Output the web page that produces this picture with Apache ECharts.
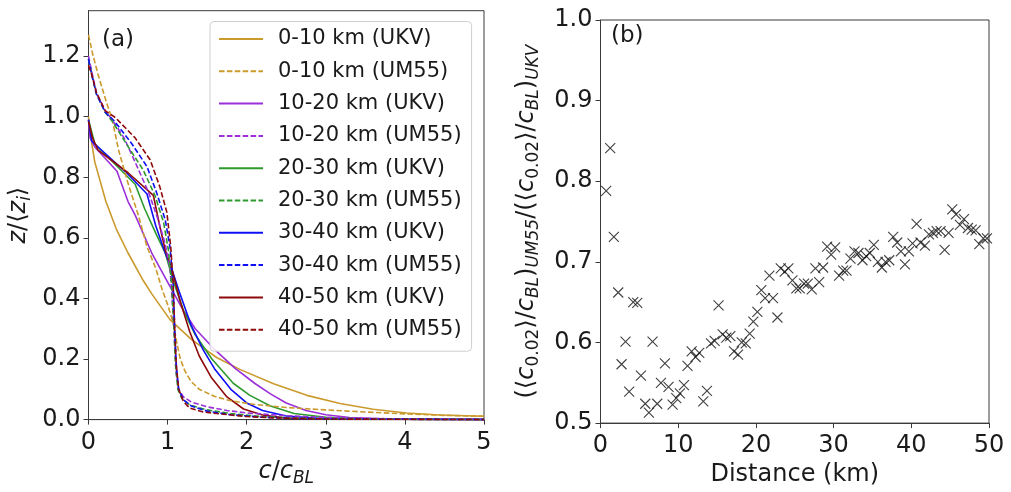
<!DOCTYPE html>
<html>
<head>
<meta charset="utf-8">
<script src="https://cdn.jsdelivr.net/npm/echarts@6/dist/echarts.min.js"></script>
<style>
  html, body { margin: 0; padding: 0; background: #ffffff; }
  #chart { width: 1011px; height: 492px; }
</style>
</head>
<body>
<div id="chart"></div>
<script>
// ---- Panel (a): normalised concentration profiles, [c/cBL, z/<zi>] ----
const ukv_0_10 = [[0,1.0],[0.03,0.93],[0.08,0.85],[0.22,0.72],[0.35,0.63],[0.5,0.55],[0.69,0.46],[0.8,0.415],[1.03,0.33],[1.3,0.265],[1.62,0.205],[1.92,0.165],[2.34,0.118],[2.76,0.08],[3.18,0.053],[3.6,0.034],[4.02,0.022],[4.44,0.015],[5,0.011]];
const um55_0_10 = [[0,1.27],[0.05,1.21],[0.12,1.14],[0.23,1.045],[0.3,0.99],[0.38,0.89],[0.5,0.78],[0.63,0.675],[0.74,0.57],[0.85,0.5],[0.93,0.43],[1.0,0.38],[1.07,0.32],[1.12,0.25],[1.16,0.2],[1.22,0.16],[1.3,0.125],[1.4,0.1],[1.6,0.076],[1.8,0.062],[2.1,0.05],[2.5,0.04],[3,0.032],[3.5,0.025],[4,0.019],[4.5,0.014],[5,0.011]];
const ukv_10_20 = [[0,0.99],[0.02,0.93],[0.08,0.9],[0.36,0.82],[0.5,0.72],[0.59,0.675],[0.8,0.55],[1.03,0.44],[1.2,0.36],[1.35,0.3],[1.6,0.23],[1.85,0.17],[2.1,0.12],[2.3,0.085],[2.5,0.055],[2.75,0.03],[3.0,0.016],[3.3,0.007],[3.7,0.003],[4.2,0.001],[5,0]];
const um55_10_20 = [[0,1.2],[0.04,1.15],[0.1,1.08],[0.21,1.02],[0.3,0.99],[0.45,0.93],[0.59,0.85],[0.76,0.75],[0.88,0.66],[0.97,0.58],[1.03,0.5],[1.07,0.35],[1.09,0.25],[1.11,0.15],[1.14,0.1],[1.2,0.075],[1.3,0.058],[1.5,0.042],[1.75,0.03],[2.0,0.022],[2.5,0.013],[3,0.007],[3.5,0.004],[4,0.002],[5,0.001]];
const ukv_20_30 = [[0,0.99],[0.08,0.91],[0.59,0.777],[0.71,0.696],[0.86,0.61],[0.97,0.55],[1.07,0.46],[1.2,0.36],[1.35,0.28],[1.56,0.2],[1.83,0.12],[2.04,0.08],[2.3,0.045],[2.6,0.02],[3,0.008],[3.5,0.002],[5,0]];
const um55_20_30 = [[0,1.19],[0.04,1.14],[0.1,1.075],[0.21,1.015],[0.3,0.985],[0.48,0.91],[0.69,0.825],[0.84,0.74],[0.95,0.65],[1.01,0.56],[1.05,0.45],[1.08,0.3],[1.1,0.18],[1.13,0.1],[1.18,0.07],[1.28,0.048],[1.5,0.032],[1.8,0.02],[2.2,0.01],[2.6,0.005],[3,0.002],[5,0]];
const ukv_30_40 = [[0,0.99],[0.04,0.92],[0.08,0.91],[0.5,0.81],[0.74,0.745],[0.85,0.64],[0.97,0.55],[1.05,0.5],[1.15,0.42],[1.3,0.31],[1.45,0.23],[1.6,0.165],[1.8,0.1],[2.0,0.055],[2.2,0.03],[2.5,0.012],[3,0.003],[5,0]];
const um55_30_40 = [[0,1.19],[0.04,1.14],[0.1,1.075],[0.21,1.015],[0.33,0.985],[0.55,0.91],[0.74,0.835],[0.86,0.75],[0.97,0.66],[1.03,0.57],[1.07,0.45],[1.09,0.3],[1.11,0.18],[1.14,0.1],[1.2,0.065],[1.3,0.045],[1.5,0.028],[1.8,0.016],[2.2,0.008],[2.6,0.004],[3,0.002],[5,0]];
const ukv_40_50 = [[0,0.985],[0.05,0.93],[0.12,0.89],[0.5,0.815],[0.82,0.74],[0.9,0.64],[0.97,0.56],[1.05,0.5],[1.16,0.39],[1.28,0.29],[1.4,0.21],[1.55,0.14],[1.75,0.075],[1.96,0.035],[2.2,0.015],[2.5,0.005],[3,0.001],[5,0]];
const um55_40_50 = [[0,1.17],[0.04,1.14],[0.1,1.08],[0.21,1.02],[0.34,0.997],[0.59,0.93],[0.78,0.857],[0.9,0.77],[0.99,0.685],[1.04,0.57],[1.07,0.45],[1.09,0.3],[1.11,0.18],[1.14,0.1],[1.2,0.06],[1.28,0.038],[1.45,0.025],[1.62,0.02],[2.0,0.01],[2.3,0.006],[3,0.002],[5,0]];

const profileNames = ['0-10 km (UKV)','0-10 km (UM55)','10-20 km (UKV)','10-20 km (UM55)','20-30 km (UKV)','20-30 km (UM55)','30-40 km (UKV)','30-40 km (UM55)','40-50 km (UKV)','40-50 km (UM55)'];
const profileData = [ukv_0_10, um55_0_10, ukv_10_20, um55_10_20, ukv_20_30, um55_20_30, ukv_30_40, um55_30_40, ukv_40_50, um55_40_50];
const profileColors = ['#CB9A2C','#CB9A2C','#9B2FD9','#9B2FD9','#2E9A2E','#2E9A2E','#1010F5','#1010F5','#8E0A0A','#8E0A0A'];

const xTicksA = [0, 1, 2, 3, 4, 5];
const yTicksA = [0, 0.2, 0.4, 0.6, 0.8, 1.0, 1.2];

// ---- Panel (b): ratio of UM55 to UKV normalised 2% concentration vs distance ----
const distanceKm = [0.73,1.25,1.72,2.28,2.71,3.22,3.69,4.21,4.73,5.2,5.76,6.23,6.7,7.3,7.78,8.29,8.76,9.28,9.75,10.22,10.74,11.2,11.73,12.24,12.71,13.23,13.7,14.22,14.69,15.2,15.72,16.19,16.71,17.18,17.7,18.17,18.69,19.2,19.67,20.19,20.7,21.18,21.74,22.2,22.77,23.2,23.71,24.18,24.7,25.21,25.64,26.2,26.68,27.19,27.66,28.14,28.65,29.17,29.68,30.2,30.71,31.23,31.66,32.17,32.69,33.2,33.72,34.19,34.66,35.18,35.7,36.21,36.68,37.16,37.67,38.19,38.66,39.18,39.69,40.16,40.68,41.19,41.75,42.27,42.78,43.26,43.77,44.29,44.8,45.27,45.75,46.26,46.78,47.29,47.77,48.28,48.75,49.27,49.74];
const ratio = [0.788,0.841,0.731,0.662,0.573,0.601,0.539,0.650,0.649,0.559,0.524,0.513,0.601,0.524,0.550,0.574,0.545,0.523,0.531,0.537,0.547,0.571,0.589,0.582,0.587,0.527,0.540,0.599,0.602,0.646,0.610,0.606,0.608,0.589,0.585,0.600,0.599,0.611,0.626,0.638,0.665,0.655,0.683,0.655,0.631,0.692,0.688,0.692,0.677,0.667,0.667,0.673,0.673,0.666,0.692,0.675,0.693,0.719,0.709,0.718,0.683,0.689,0.689,0.704,0.713,0.711,0.702,0.707,0.711,0.721,0.700,0.693,0.700,0.702,0.731,0.724,0.713,0.697,0.713,0.723,0.747,0.724,0.720,0.734,0.736,0.738,0.738,0.715,0.736,0.765,0.759,0.746,0.753,0.742,0.740,0.739,0.722,0.729,0.729];

const xTicksB = [0, 10, 20, 30, 40, 50];
const yTicksB = [0.5, 0.6, 0.7, 0.8, 0.9, 1.0];

const FONT = 'DejaVu Sans';
const INK = '#1a1a1a';
const SPINE = '#3a3a3a';

const richBase = {
  n:   { fontFamily: FONT, fontSize: 24, color: INK },
  it:  { fontFamily: FONT, fontSize: 24, fontStyle: 'italic', color: INK },
  sub: { fontFamily: FONT, fontSize: 17, fontStyle: 'italic', color: INK, padding: [14, 0, 0, 0] },
  subn:{ fontFamily: FONT, fontSize: 17, color: INK, padding: [14, 0, 0, 0] }
};

function valueAxis(grid, min, max, interval, ticks, fmt, extra) {
  return Object.assign({
    type: 'value', gridIndex: grid, min: min, max: max, interval: interval,
    axisLine: { show: true, lineStyle: { color: SPINE, width: 1 } },
    axisTick: { show: true, inside: false, length: 5, customValues: ticks, lineStyle: { color: SPINE, width: 1 } },
    axisLabel: { show: true, customValues: ticks, margin: 8, fontFamily: FONT, fontSize: 24, color: INK, formatter: fmt },
    splitLine: { show: false }
  }, extra);
}

const crossPath = 'path://M0,0L10,10M10,0L0,10';

const series = profileData.map((d, i) => ({
  type: 'line', name: profileNames[i], xAxisIndex: 0, yAxisIndex: 0,
  data: d, symbol: 'none', smooth: false, animation: false, z: 3 + (i % 2),
  lineStyle: { color: profileColors[i], width: 1.6, type: i % 2 === 0 ? 'solid' : [5.5, 2.4] },
  itemStyle: { color: profileColors[i] }
}));

series.push({
  type: 'scatter', name: 'ratio', xAxisIndex: 1, yAxisIndex: 1,
  data: distanceKm.map((d, i) => [d, ratio[i]]),
  symbol: crossPath, symbolSize: 10, animation: false,
  itemStyle: { color: 'transparent', borderColor: '#111', borderWidth: 1.1 }
});

const chart = echarts.init(document.getElementById('chart'), null, { renderer: 'canvas' });
chart.setOption({
  backgroundColor: '#ffffff',
  animation: false,
  grid: [
    { left: 88.5, top: 10.7, width: 395.5, height: 418.8, show: true, borderColor: SPINE, borderWidth: 1, backgroundColor: 'transparent' },
    { left: 600.5, top: 20, width: 388.5, height: 410, show: true, borderColor: SPINE, borderWidth: 1, backgroundColor: 'transparent' }
  ],
  xAxis: [
    valueAxis(0, 0, 5, 1, xTicksA, v => String(v), {
      name: '{it|c}{n|/}{it|c}{sub|BL}', nameLocation: 'middle', nameGap: 36,
      nameTextStyle: { rich: richBase },
      axisLabel: { show: true, customValues: xTicksA, margin: 11, fontFamily: FONT, fontSize: 24, color: INK, formatter: v => String(v) }
    }),
    valueAxis(1, 0, 50, 10, xTicksB, v => String(v), {
      name: 'Distance (km)', nameLocation: 'middle', nameGap: 38,
      nameTextStyle: { fontFamily: FONT, fontSize: 24, color: INK },
      axisLabel: { show: true, customValues: xTicksB, margin: 11, fontFamily: FONT, fontSize: 24, color: INK, formatter: v => String(v) }
    })
  ],
  yAxis: [
    valueAxis(0, 0, 1.35, 0.05, yTicksA, v => v.toFixed(1), {
      name: '{it|z}{n|/⟨}{it|z}{sub|i}{n|⟩}', nameLocation: 'middle', nameGap: 54, nameRotate: 90,
      nameTextStyle: { rich: richBase }
    }),
    valueAxis(1, 0.5, 1.0, 0.1, yTicksB, v => v.toFixed(1), {
      name: '{n|(⟨}{it|c}{subn|0.02}{n|⟩/}{it|c}{sub|BL}{n|)}{sub|UM55}{n|/(⟨}{it|c}{subn|0.02}{n|⟩/}{it|c}{sub|BL}{n|)}{sub|UKV}',
      nameLocation: 'middle', nameGap: 58, nameRotate: 90,
      nameTextStyle: { rich: richBase }
    })
  ],
  legend: {
    show: true, orient: 'vertical', left: 210, top: 21.5,
    data: profileNames,
    padding: [7, 10, 11, 8], itemGap: 11.3, itemWidth: 44, itemHeight: 14,
    itemStyle: { opacity: 0 },
    borderColor: '#cfcfcf', borderWidth: 1, borderRadius: 4,
    backgroundColor: 'rgba(255,255,255,0.85)',
    textStyle: { fontFamily: FONT, fontSize: 21, color: INK, padding: [0, 0, 0, 10] },
    selectedMode: false
  },
  graphic: [
    { type: 'text', left: 102, top: 29, style: { text: '(a)', fontFamily: FONT, fontSize: 23, fill: INK } },
    { type: 'text', left: 611, top: 25, style: { text: '(b)', fontFamily: FONT, fontSize: 23, fill: INK } }
  ],
  series: series
});
</script>
</body>
</html>
